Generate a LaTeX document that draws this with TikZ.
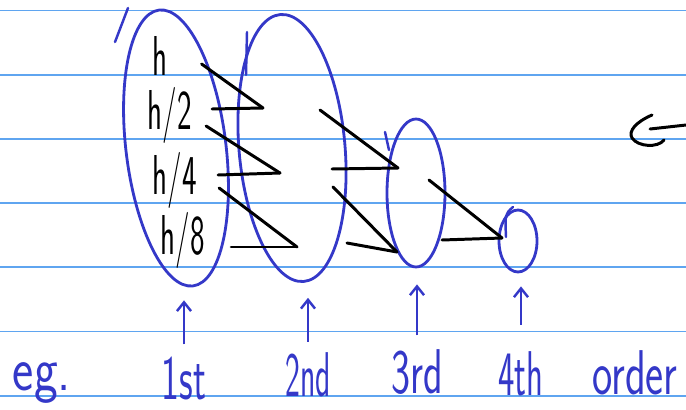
\documentclass[tikz,border=0pt]{standalone}
\usepackage{graphicx}
\usetikzlibrary{shapes.geometric,arrows.meta}
\definecolor{pen}{RGB}{52,56,200}
\definecolor{ruleblue}{RGB}{95,165,240}
\newcommand{\narrow}[2]{\scalebox{#1}[1]{#2}}
\tikzset{
  ring/.style={ellipse,draw=pen,line width=1.6pt,inner sep=0pt},
  stroke/.style={black,line width=1.7pt,line cap=round,line join=round},
  penline/.style={draw=pen,line width=1.4pt,line cap=round},
  term/.style={font=\sffamily\fontsize{32}{32}\selectfont,inner sep=1pt},
  tag/.style={font=\sffamily\fontsize{36}{36}\selectfont,text=pen,inner sep=1pt},
  uparrow/.style={-{Straight Barb[length=5pt,width=8pt]},draw=pen,line width=1.4pt},
}

\begin{document}
\begin{tikzpicture}[x=0.02cm,y=-0.02cm]
  \useasboundingbox (0,0) rectangle (686,409);
  % ruled paper
  \foreach \y in {10.5,74.7,138.9,203.1,267.3,331.5,395.7}
    \draw[ruleblue,line width=1pt] (0,\y) -- (686,\y);
  % groups
  \node[ring,minimum width=2.0cm,minimum height=5.56cm,rotate=7] (g1) at (176,148) {};
  \node[ring,minimum width=2.12cm,minimum height=5.36cm,rotate=5] (g2) at (292,148) {};
  \node[ring,minimum width=1.16cm,minimum height=2.96cm] (g3) at (416,193) {};
  \node[ring,minimum width=0.76cm,minimum height=1.24cm] (g4) at (518,241) {};
  % pen restarts
  \draw[penline] (115,42) -- (128,8);
  \draw[penline] (247,32) -- (246,75);
  \draw[penline] (385,132) -- (389,150);
  \draw[penline] (513,207) .. controls (505,214) .. (506,237);
  % step sizes
  \node[term] (h1) at (160,56)  {\narrow{0.55}{h}};
  \node[term] (h2) at (170,115) {\narrow{0.55}{h/2}};
  \node[term] (h4) at (175,180) {\narrow{0.55}{h/4}};
  \node[term] (h8) at (183,240) {\narrow{0.55}{h/8}};
  % merge points
  \coordinate (m1) at (263,108);
  \coordinate (m2) at (280,173);
  \coordinate (m3) at (297,247);
  \coordinate (n1) at (398,168);
  \coordinate (n2) at (397,252);
  \coordinate (p1) at (502,238);
  % first pass
  \draw[stroke] ([shift={(32,8)}]h1.east) -- (m1);
  \draw[stroke] ([shift={(18,-6)}]h2.east) -- (m1);
  \draw[stroke] ([shift={(12,11)}]h2.east) -- (m2);
  \draw[stroke] ([shift={(19,-5)}]h4.east) -- (m2);
  \draw[stroke] ([shift={(20,8)}]h4.east) -- (m3);
  \draw[stroke] ([shift={(24,7)}]h8.east) -- (m3);
  % second pass
  \draw[stroke] ([shift={(40,-63)}]m2) -- (n1);
  \draw[stroke] ([shift={(52,-4)}]m2) -- (n1);
  \draw[stroke] ([shift={(53,14)}]m2) -- (n2);
  \draw[stroke] ([shift={(50,-4)}]m3) -- (n2);
  % third pass
  \draw[stroke] ([shift={(31,12)}]n1) -- (p1);
  \draw[stroke] ([shift={(45,-12)}]n2) -- (p1);
  % orders
  \node[tag] (eg) at (42,383) {\narrow{0.8}{eg.}};
  \node[tag] (t1) at (184,378) {\narrow{0.6}{1st}};
  \node[tag] (t2) at (308,375) {\narrow{0.5}{2nd}};
  \node[tag] (t3) at (417,372) {\narrow{0.64}{3rd}};
  \node[tag] (t4) at (521,374) {\narrow{0.55}{4th}};
  \node[tag] (ord) at (635,373) {\narrow{0.68}{order}};
  \draw[uparrow,shorten <=0.2cm,shorten >=0.26cm] (t1.north) -- (t1.north |- g1.south);
  \draw[uparrow,shorten <=0.18cm,shorten >=0.3cm] (t2.north) -- (t2.north |- g2.south);
  \draw[uparrow,shorten <=0.24cm,shorten >=0.32cm] (t3.north) -- (t3.north |- g3.south);
  \draw[uparrow,shorten <=0.5cm,shorten >=0.26cm] (t4.north) -- (t4.north |- g4.south);
  % arrow coming in from the right
  \coordinate (edge) at (686,125);
  \coordinate (stem) at (650,129);
  \draw[stroke] (edge) -- (stem);
  \draw[stroke] (652,115) .. controls (636,122) and (628,131) .. (632,138)
    .. controls (638,147) and (658,148) .. (664,140);
\end{tikzpicture}
\end{document}
